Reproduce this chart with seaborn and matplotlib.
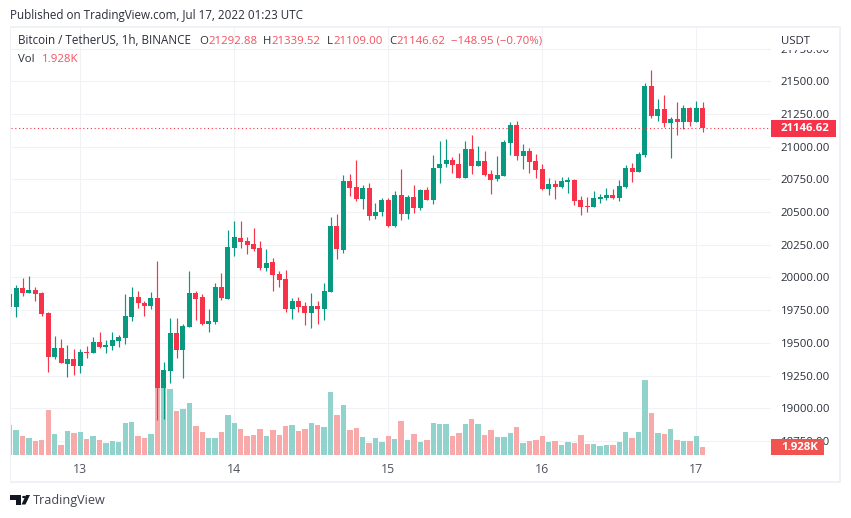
import numpy as np
import pandas as pd
import matplotlib
matplotlib.use("Agg")
import matplotlib.pyplot as plt
from matplotlib.patches import Rectangle, Polygon, Circle
import seaborn as sns

# hours relative to Jul 13 00:00 UTC
hours = list(range(-11, 98))
opens = [19874,19775,19920,19881,19904,19881,19729,19392,19461,19339,19377,19324,19431,19423,19507,19469,19477,19515,19537,19698,19851,19805,19782,19844,19155,19285,19576,19446,19622,19881,19851,19645,19660,19927,19836,
         20225,20302,20279,20256,20225,20073,20118,20027,19988,19759,19820,19782,19729,19782,19759,19889,20394,20210,20738,20692,20600,20684,20470,20501,20592,20394,20631,20485,20615,20531,20669,20592,20837,20868,20898,20868,20761,
         20983,20853,20891,20791,20753,20776,21029,21166,20929,20967,20891,20830,20677,20715,20692,20730,20746,20593,20547,20539,20600,20608,20631,20608,20692,20837,20807,20937,21464,21235,21288,21181,21212,21189,21296,21189,21292.88]
highs = [19920,19943,19996,20011,19927,19889,19736,19553,19530,19484,19454,19454,19477,19546,19584,19522,19584,19561,19874,19927,19897,19820,19889,20126,19354,19691,19691,19645,20050,19897,19874,19760,19958,20034,20363,
         20432,20432,20310,20378,20279,20218,20149,20050,20057,19843,19851,19813,19881,19820,19958,20462,20485,20783,20791,20898,20707,20722,20569,20608,20608,20661,20829,20631,20707,20676,20692,20936,21043,21059,20921,20952,21043,
         21090,21006,20967,20822,20929,21051,21189,21197,21021,20990,20944,20868,20761,20746,20769,20769,20753,20623,20616,20662,20639,20685,20677,20746,20860,20876,20960,21487,21587,21365,21395,21227,21342,21319,21304,21350,21339.52]
lows = [19740,19698,19859,19881,19820,19706,19278,19377,19347,19240,19255,19270,19385,19423,19461,19423,19446,19469,19492,19668,19767,19706,19760,18911,18918,19194,19385,19232,19622,19675,19637,19584,19645,19828,19836,
        20164,20225,20180,20203,20057,20050,19897,19927,19736,19683,19736,19637,19614,19645,19675,19889,20141,20187,20623,20585,20524,20439,20447,20470,20386,20386,20439,20447,20493,20516,20592,20562,20722,20845,20799,20761,20761,
        20791,20853,20776,20639,20738,20776,20937,20899,20830,20799,20761,20669,20631,20600,20685,20646,20555,20478,20501,20539,20570,20593,20600,20585,20685,20730,20807,20922,21220,21197,21151,20914,21090,21136,21158,21189,21109]
closes = [19774,19920,19881,19904,19874,19721,19392,19461,19347,19377,19324,19431,19423,19507,19469,19484,19522,19546,19706,19851,19805,19782,19844,19155,19293,19576,19446,19630,19881,19836,19645,19668,19927,19844,20233,
          20310,20271,20248,20218,20073,20111,20019,19981,19759,19820,19774,19729,19782,19759,19897,20394,20218,20738,20684,20600,20684,20470,20501,20592,20394,20631,20485,20615,20531,20669,20592,20837,20868,20898,20860,20761,20982,
          20853,20891,20784,20746,20784,21036,21166,20929,20967,20883,20822,20677,20715,20692,20738,20746,20585,20539,20539,20608,20616,20631,20608,20700,20837,20807,20944,21464,21235,21288,21181,21212,21189,21296,21189,21296,21146.62]
volumes = [7.23,6.02,4.58,4.10,3.37,3.61,10.84,5.06,2.41,5.78,5.30,5.54,3.86,4.58,3.61,2.89,3.37,3.13,7.71,7.95,4.58,4.10,5.06,25.8,18.07,15.9,10.6,11.08,12.53,6.99,5.54,4.10,4.10,5.54,9.64,
           7.71,6.27,4.58,4.82,6.27,4.58,6.02,4.82,6.99,7.23,5.78,6.27,7.71,7.23,6.75,15.18,9.64,12.05,6.02,6.51,4.34,2.89,4.10,3.13,4.58,3.86,8.19,3.61,5.06,3.13,3.61,7.71,7.47,7.47,4.58,5.30,7.47,
           8.67,7.47,4.82,6.02,4.34,4.34,5.30,6.75,2.89,3.37,3.61,4.58,3.13,3.37,2.41,3.13,2.89,4.82,2.65,2.65,2.17,2.41,2.41,3.13,5.54,4.10,5.54,18.07,10.12,5.30,5.06,6.27,3.61,3.37,3.37,4.58,1.928]
price_ticks = [18750 + 250 * i for i in range(13)]
date_ticks = [0, 24, 48, 72, 96]
date_labels = ["13", "14", "15", "16", "17"]
last_close = 21146.62

W, H = 851, 518
UP = "#089981"; DOWN = "#F7334A"
UP_V = "#92D2CC"; DOWN_V = "#F8A9A9"
GRID = "#F1F2F6"; FRAME = "#F0F1F7"; TXT = "#2A2E39"; LEG_RED = "#F4505F"

sns.set_theme(style="white")
plt.rcParams["font.family"] = ["Open Sans", "DejaVu Sans"]

df = pd.DataFrame({"t": hours, "o": opens, "h": highs, "l": lows, "c": closes, "v": volumes})
df["dir"] = np.where(df.c >= df.o, "up", "down")

fig = plt.figure(figsize=(W / 100, H / 100), dpi=100, facecolor="white")

def box(l, t, r, b):
    return [l / W, 1 - b / H, (r - l) / W, (b - t) / H]

def ftext(x, y, s, **kw):
    kw.setdefault("fontsize", 8.2)
    kw.setdefault("color", TXT)
    kw.setdefault("va", "center")
    return fig.text(x / W, 1 - y / H, s, zorder=8, **kw)

def frect(l, t, r, b, color, z=5):
    fig.add_artist(Rectangle((l / W, 1 - b / H), (r - l) / W, (b - t) / H, transform=fig.transFigure,
                             facecolor=color, edgecolor="none", zorder=z))

x0, x1 = (11 - 80.3) / 6.417, (771 - 80.3) / 6.417

# volume pane underneath
axv = fig.add_axes(box(11, 28, 771, 455), zorder=1)
axv.set_facecolor("white")
sns.barplot(data=df, x="t", y="v", hue="dir", palette={"up": UP_V, "down": DOWN_V}, native_scale=True,
            dodge=False, width=0.84, saturation=1, errorbar=None, legend=False, linewidth=0, ax=axv)
axv.set_xlim(x0, x1)
axv.set_ylim(0, 427 * 0.241)
axv.axis("off")

# price pane
ax = fig.add_axes(box(11, 28, 771, 456), zorder=2)
ax.patch.set_alpha(0)
ax.set_xlim(x0, x1)
ax.set_ylim(21000 - (456 - 146.7) / 0.1308, 21000 + (146.7 - 28) / 0.1308)
for name in ax.spines:
    ax.spines[name].set_visible(False)
ax.yaxis.tick_right()
ax.set_yticks(price_ticks)
ax.set_yticklabels([f"{p:.2f}" for p in price_ticks])
ax.set_xticks(date_ticks)
ax.set_xticklabels(date_labels)
ax.tick_params(axis="y", length=0, pad=7, labelsize=8.2, labelcolor=TXT)
ax.tick_params(axis="x", length=0, pad=5, labelsize=8.8, labelcolor="#50535E")
ax.set_xlabel(""); ax.set_ylabel("")

# grid lines sit behind the bars
axg = fig.add_axes(box(11, 28, 771, 456), zorder=0)
axg.set_xlim(ax.get_xlim()); axg.set_ylim(ax.get_ylim())
axg.set_xticks(date_ticks); axg.set_yticks(price_ticks)
axg.grid(True, color=GRID, lw=0.75)
axg.tick_params(length=0, labelbottom=False, labelleft=False)
for name in axg.spines:
    axg.spines[name].set_visible(False)
axv.patch.set_alpha(0)

colors = df["dir"].map({"up": UP, "down": DOWN})
ax.vlines(df.t, df.l, df.h, colors=colors, lw=0.85, zorder=3)
ax.bar(df.t, (df.c - df.o).abs().clip(lower=6), bottom=df[["o", "c"]].min(axis=1), width=0.78, color=colors, lw=0, zorder=4)
ax.axhline(last_close, color=DOWN, lw=0.8, ls=(0, (1, 2.4)), zorder=5)

# frame
frect(9.5, 26, 841, 28, FRAME); frect(9.5, 481, 841, 483, FRAME)
frect(9.5, 26, 11, 483, FRAME); frect(839, 26, 841, 483, FRAME)

# price-scale overlays
frect(772, 28, 839, 50, "white", 5)
ftext(781, 41, "USDT")
frect(771, 120, 836, 137, DOWN, 6)
ftext(781, 128.5, "21146.62", color="white", fontweight="bold")
frect(771, 439, 824, 455, "#F05350", 6)
ftext(781, 447.5, "1.928K", color="white", fontweight="bold")

# header and legend
ftext(10, 15, "Published on TradingView.com, Jul 17, 2022 01:23 UTC", fontsize=8.4)
ftext(18, 41, "Bitcoin / TetherUS, 1h, BINANCE", fontsize=8.4)
for x, s, c in [(199, "O", TXT), (208, "21292.88", LEG_RED), (263, "H", TXT), (271, "21339.52", LEG_RED),
                (327, "L", TXT), (333, "21109.00", LEG_RED), (389, "C", TXT), (396, "21146.62", LEG_RED),
                (451, "\u2212148.95 (\u22120.70%)", LEG_RED)]:
    ftext(x, 41, s, color=c)
ftext(18, 59, "Vol")
ftext(42, 59, "1.928K", color=LEG_RED)

# footer logo + wordmark
K = "#131722"
def lx(x): return x / W
def ly(y): return 1 - y / H
fig.add_artist(Polygon([(lx(10), ly(495)), (lx(21), ly(495)), (lx(21), ly(504.5)), (lx(16), ly(504.5)), (lx(16), ly(499.5)), (lx(10), ly(499.5))],
                       transform=fig.transFigure, facecolor=K, edgecolor="none", zorder=8))
fig.add_artist(Circle((lx(24), ly(497)), 1.9 / W, transform=fig.transFigure, facecolor=K, edgecolor="none", zorder=8))
fig.add_artist(Polygon([(lx(26), ly(495)), (lx(30), ly(495)), (lx(25.5), ly(504.5)), (lx(21.5), ly(504.5))],
                       transform=fig.transFigure, facecolor=K, edgecolor="none", zorder=8))
ftext(33, 500.5, "TradingView", fontsize=9.1, color="#434651")

fig.savefig("out.png", dpi=100, facecolor="white")
